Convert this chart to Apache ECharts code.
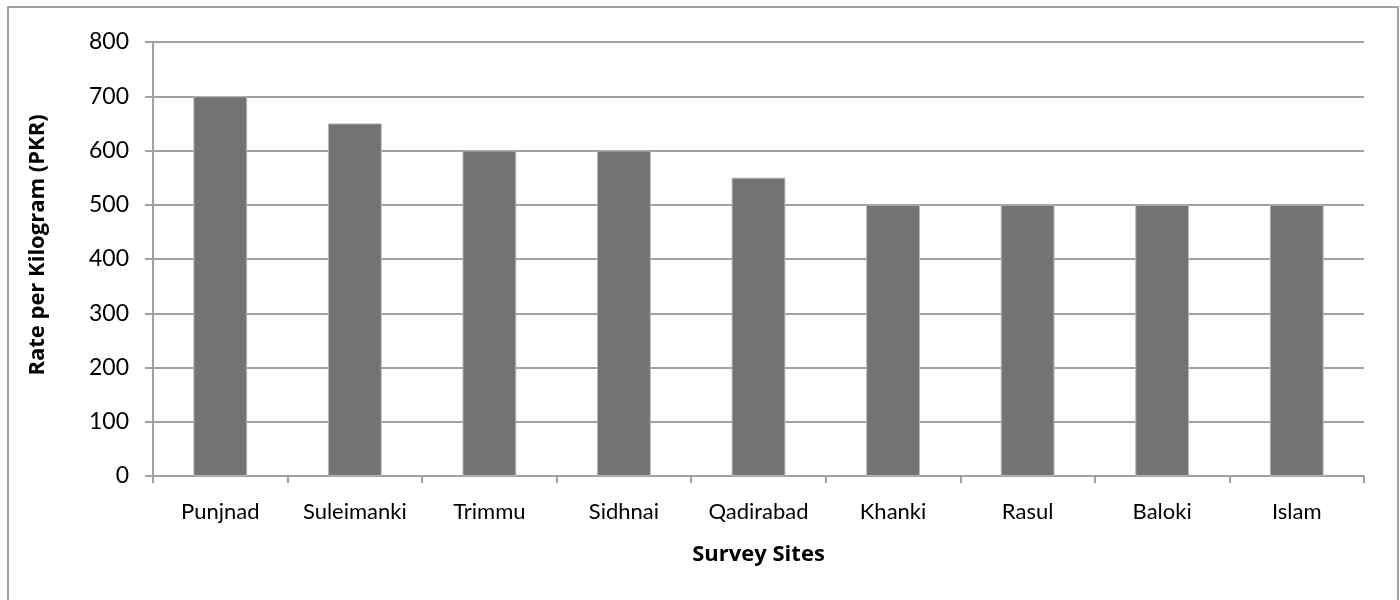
<!DOCTYPE html>
<html>
<head>
    <meta charset="utf-8">
    <title>Survey Sites</title>
    <script src="https://cdn.jsdelivr.net/npm/echarts@6/dist/echarts.min.js"></script>
    <style>
        html, body { margin: 0; padding: 0; background: #fff; }
        #container { width: 1400px; height: 600px; }
    </style>
</head>
<body>
    <div id="container"></div>
    <script type="text/javascript">
        // data
        var sites = ['Punjnad', 'Suleimanki', 'Trimmu', 'Sidhnai', 'Qadirabad', 'Khanki', 'Rasul', 'Baloki', 'Islam'];
        var rates = [700, 650, 600, 600, 550, 500, 500, 500, 500];
        var yTicks = [0, 100, 200, 300, 400, 500, 600, 700, 800];

        var font = 'Lato, "Open Sans", sans-serif';
        var titleFont = '"Open Sans", Lato, sans-serif';
        var myChart = echarts.init(document.getElementById('container'));

        myChart.setOption({
            animation: false,
            // outer frame of the chart
            graphic: [{
                type: 'rect',
                shape: { x: 8, y: 7, width: 1390, height: 600 },
                style: { fill: 'none', stroke: '#a0a0a0', lineWidth: 2 },
                silent: true
            }],
            grid: { left: 153, right: 36, top: 42, bottom: 124 },
            xAxis: {
                type: 'category',
                data: sites,
                name: 'Survey Sites',
                nameLocation: 'middle',
                nameGap: 68,
                nameTextStyle: { fontFamily: titleFont, fontSize: 22, fontWeight: 'bold', color: '#000' },
                axisLine: { lineStyle: { color: '#a0a0a0', width: 2 } },
                axisTick: { show: true, length: 7, lineStyle: { color: '#a0a0a0', width: 2 } },
                axisLabel: { interval: 0, fontFamily: font, fontSize: 22, color: '#000', margin: 25 }
            },
            yAxis: {
                type: 'value',
                min: yTicks[0],
                max: yTicks[yTicks.length - 1],
                interval: 100,
                name: 'Rate per Kilogram (PKR)',
                nameLocation: 'middle',
                nameGap: 104,
                nameRotate: 90,
                // title sits a little above the plot's middle in the original
                nameTextStyle: { fontFamily: titleFont, fontSize: 22, fontWeight: 'bold', color: '#000', padding: [0, 0, 0, 28] },
                axisLine: { show: true, lineStyle: { color: '#a0a0a0', width: 2 } },
                axisTick: { show: true, inside: false, length: 8, lineStyle: { color: '#a0a0a0', width: 2 } },
                axisLabel: { fontFamily: font, fontSize: 23, color: '#000', margin: 24 },
                splitLine: { lineStyle: { color: '#a0a0a0', width: 2 } }
            },
            series: [{
                type: 'bar',
                data: rates,
                barWidth: '40%',
                itemStyle: { color: '#737373', borderColor: '#b8b8b8', borderWidth: 1 }
            }]
        });
    </script>
</body>
</html>
